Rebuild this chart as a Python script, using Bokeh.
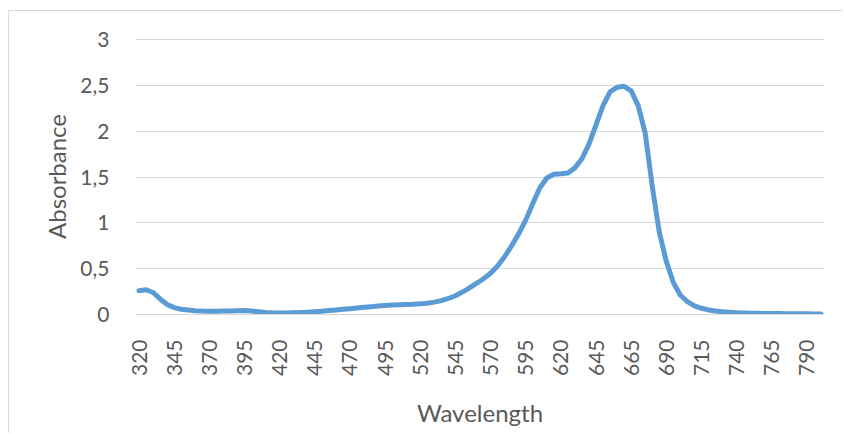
from bokeh.plotting import figure
from bokeh.models import Range1d, FixedTicker
from bokeh.embed import file_html
from bokeh.resources import INLINE

# ---- data ----
wavelengths = [320, 325, 330, 335, 340, 345, 350, 355, 360, 365,
               370, 375, 380, 385, 390, 395, 400, 405, 410, 415,
               420, 425, 430, 435, 440, 445, 450, 455, 460, 465,
               470, 475, 480, 485, 490, 495, 500, 505, 510, 515,
               520, 525, 530, 535, 540, 545, 550, 555, 560, 565,
               570, 575, 580, 585, 590, 595, 600, 605, 610, 615,
               620, 625, 630, 635, 640, 645, 650, 655, 657, 660,
               665, 670, 675, 680, 685, 690, 695, 700, 705, 710,
               715, 720, 725, 730, 735, 740, 745, 750, 755, 760,
               765, 770, 775, 780, 785, 790, 795, 800]
absorbance = [0.26, 0.27, 0.24, 0.17, 0.11, 0.075, 0.058, 0.048, 0.042, 0.038,
              0.036, 0.036, 0.037, 0.039, 0.042, 0.043, 0.038, 0.030, 0.023, 0.018,
              0.016, 0.016, 0.018, 0.021, 0.025, 0.030, 0.036, 0.043, 0.050, 0.057,
              0.064, 0.071, 0.078, 0.085, 0.092, 0.098, 0.103, 0.107, 0.110, 0.112,
              0.116, 0.123, 0.135, 0.152, 0.175, 0.205, 0.245, 0.29, 0.34, 0.39,
              0.45, 0.53, 0.63, 0.75, 0.88, 1.03, 1.21, 1.38, 1.49, 1.53,
              1.535, 1.545, 1.60, 1.70, 1.86, 2.07, 2.28, 2.43, 2.48, 2.49,
              2.44, 2.28, 1.98, 1.40, 0.90, 0.58, 0.35, 0.21, 0.14, 0.095,
              0.068, 0.050, 0.038, 0.030, 0.024, 0.020, 0.017, 0.015, 0.013, 0.012,
              0.011, 0.010, 0.009, 0.008, 0.007, 0.007, 0.006, 0.006]
y_tick_values = [0, 0.5, 1, 1.5, 2, 2.5, 3]
y_tick_labels = ["0", "0,5", "1", "1,5", "2", "2,5", "3"]
x_label_step = 5
x_title = "Wavelength"
y_title = "Absorbance"

FONT = "Lato"
TXT = "#595959"
GRID = "#D9D9D9"

n = len(wavelengths)
idx = list(range(n))
x_ticks = idx[::x_label_step]

p = figure(width=834, height=423, output_backend="svg", toolbar_location=None,
           x_range=Range1d(-0.5, n - 0.5), y_range=Range1d(0, 3.012),
           min_border_left=126, min_border_right=19, min_border_top=27,
           min_border_bottom=120)
p.styles = {"margin-left": "8px", "margin-top": "10px",
            "border-left": "1px solid #D9D9D9", "border-top": "1px solid #D9D9D9"}
p.outline_line_color = None
p.background_fill_color = "white"
p.border_fill_color = "white"

p.line(idx, absorbance, line_color="#5B9BD5", line_width=5,
       line_join="round", line_cap="round")

# x axis
xa = p.xaxis[0]
xa.ticker = FixedTicker(ticks=x_ticks)
xa.major_label_overrides = {i: str(wavelengths[i]) for i in x_ticks}
xa.major_label_orientation = 1.5707963267948966
xa.major_tick_line_color = None
xa.minor_tick_line_color = None
xa.axis_line_color = GRID
xa.major_label_text_font = FONT
xa.major_label_text_font_size = "21px"
xa.major_label_text_color = TXT
xa.major_label_standoff = 19
xa.axis_label = x_title
xa.axis_label_text_font = FONT
xa.axis_label_text_font_size = "24px"
xa.axis_label_text_font_style = "normal"
xa.axis_label_text_color = TXT
xa.axis_label_standoff = 19

# y axis
ya = p.yaxis[0]
ya.ticker = FixedTicker(ticks=y_tick_values)
ya.major_label_overrides = dict(zip(y_tick_values, y_tick_labels))
ya.major_tick_line_color = None
ya.minor_tick_line_color = None
ya.axis_line_color = None
ya.major_label_text_font = FONT
ya.major_label_text_font_size = "21px"
ya.major_label_text_color = TXT
ya.major_label_standoff = 20
ya.axis_label = y_title
ya.axis_label_text_font = FONT
ya.axis_label_text_font_size = "24px"
ya.axis_label_text_font_style = "normal"
ya.axis_label_text_color = TXT
ya.axis_label_standoff = 6

p.xgrid.grid_line_color = None
p.ygrid.ticker = FixedTicker(ticks=y_tick_values)
p.ygrid.grid_line_color = GRID
p.ygrid.grid_line_width = 1

open("out.html", "w").write(file_html(p, INLINE))
